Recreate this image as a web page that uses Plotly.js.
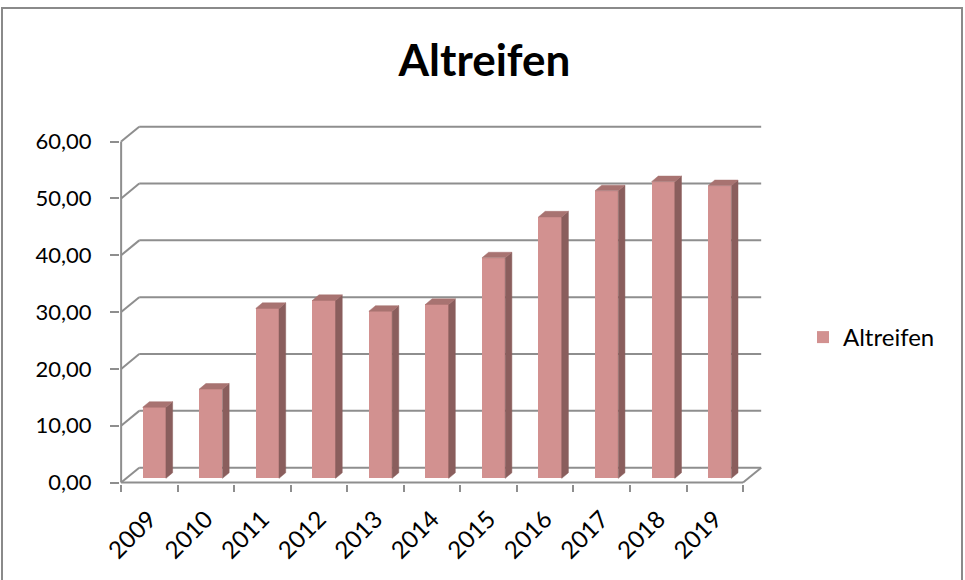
<!DOCTYPE html>
<html>
<head>
<meta charset="utf-8">
<script src="https://cdn.plot.ly/plotly-3.0.1.min.js"></script>
<style>html,body{margin:0;padding:0;background:#fff;}#chart{width:965px;height:580px;}</style>
</head>
<body>
<div id="chart"></div>
<script>
// ---- data ----
const years = ['2009','2010','2011','2012','2013','2014','2015','2016','2017','2018','2019'];
const values = [12.5, 15.7, 29.9, 31.3, 29.4, 30.6, 38.8, 46.0, 50.6, 52.2, 51.5];
const yTicks = [0, 10, 20, 30, 40, 50, 60];
const seriesName = 'Altreifen';

// ---- geometry / style (not data) ----
const W = 965, H = 580;
const backDx = 0.32, backDy = 2.62;     // depth of the back wall (category units, value units)
const barBase = 0.75, barShift = 0.087, barWidth = 0.411;
const sideDx = 0.118, sideDy = 0.98;
const cFront = '#D29190', cSide = '#8A5E5D', cTop = '#A87371';
const gridColor = '#8E8E8E';
const font = 'Lato, "Open Sans", sans-serif';

const idx = years.map((_, i) => i);
const n = years.length;

// side and top faces computed from the values
const sx = [], sy = [], tx = [], ty = [];
values.forEach((v, i) => {
  const x0 = i + barShift - barWidth / 2, x1 = i + barShift + barWidth / 2;
  const yb = barBase, yt = barBase + v;
  sx.push(x1, x1, x1 + sideDx, x1 + sideDx, x1, null);
  sy.push(yb, yt, yt + sideDy, yb + sideDy, yb, null);
  tx.push(x0, x1, x1 + sideDx, x0 + sideDx, x0, null);
  ty.push(yt, yt, yt + sideDy, yt + sideDy, yt, null);
});

const traces = [
  { type: 'bar', x: idx, y: values, base: barBase, width: barWidth, offset: barShift - barWidth / 2,
    marker: { color: cFront, line: { width: 0 } }, name: seriesName, hoverinfo: 'y' },
  { type: 'scatter', mode: 'lines', x: sx, y: sy, fill: 'toself', fillcolor: cSide,
    line: { width: 0.5, color: cSide }, showlegend: false, hoverinfo: 'skip' },
  { type: 'scatter', mode: 'lines', x: tx, y: ty, fill: 'toself', fillcolor: cTop,
    line: { width: 0.5, color: cTop }, showlegend: false, hoverinfo: 'skip' }
];

// wall gridlines, side-wall diagonals, floor and front axis lines
const shapes = [];
const L = -0.5, R = n - 0.5;
const gl = { color: gridColor, width: 2 };
yTicks.forEach(v => {
  shapes.push({ type: 'line', xref: 'x', yref: 'y', layer: 'below', x0: L + backDx, x1: R + backDx, y0: v + backDy, y1: v + backDy, line: gl });
  shapes.push({ type: 'line', xref: 'x', yref: 'y', layer: 'below', x0: L, x1: L + backDx, y0: v, y1: v + backDy, line: gl });
});
shapes.push({ type: 'line', xref: 'x', yref: 'y', layer: 'below', x0: R, x1: R + backDx, y0: 0, y1: backDy, line: gl });
shapes.push({ type: 'line', xref: 'x', yref: 'y', layer: 'below', x0: L, x1: R, y0: 0, y1: 0, line: gl });
shapes.push({ type: 'line', xref: 'x', yref: 'y', layer: 'below', x0: L, x1: L, y0: 0, y1: yTicks[yTicks.length - 1], line: gl });
// chart-area frame
shapes.push({ type: 'rect', xref: 'paper', yref: 'paper', x0: 2 / W, x1: 962 / W, y0: -0.05, y1: 1 - 8 / H,
  line: { color: '#8A8A8A', width: 2 }, fillcolor: 'rgba(0,0,0,0)' });

const layout = {
  width: W, height: H,
  margin: { l: 0, r: 0, t: 0, b: 0 },
  paper_bgcolor: '#fff', plot_bgcolor: 'rgba(0,0,0,0)',
  separators: ',.',
  font: { family: font, color: '#000' },
  title: { text: '<b>Altreifen</b>', font: { family: font, size: 44, color: '#000' },
    x: 484.5 / W, xanchor: 'center', xref: 'paper', y: 1 - 61 / H, yanchor: 'middle', yref: 'paper' },
  xaxis: {
    domain: [120 / W, 765.7 / W], range: [-0.52, 10.9], type: 'linear',
    tickmode: 'array', tickvals: idx, ticktext: years, tickangle: -45,
    ticks: '', showgrid: false, zeroline: false, showline: false,
    tickfont: { family: font, size: 24, color: '#000' }, ticklabelstandoff: 15,
    minor: { tickmode: 'linear', tick0: -0.5, dtick: 1, ticks: 'outside', ticklen: 7, tickwidth: 2, tickcolor: gridColor, showgrid: false },
    automargin: false, fixedrange: true
  },
  yaxis: {
    domain: [(H - 484.3) / H, (H - 121.7) / H], range: [-0.3, 63.5],
    tickmode: 'array', tickvals: yTicks, tickformat: '.2f',
    ticks: 'outside', ticklen: 9, tickwidth: 2, tickcolor: gridColor,
    showgrid: false, zeroline: false, showline: false,
    tickfont: { family: font, size: 22, color: '#000' }, ticklabelstandoff: 14,
    automargin: false, fixedrange: true
  },
  legend: { x: 803 / W, xanchor: 'left', y: 1 - 337.5 / H, yanchor: 'middle',
    font: { family: font, size: 24, color: '#000' }, bgcolor: 'rgba(0,0,0,0)' },
  showlegend: true,
  shapes: shapes,
  bargap: 0
};

Plotly.newPlot('chart', traces, layout, { displayModeBar: false, staticPlot: true });
</script>
</body>
</html>
